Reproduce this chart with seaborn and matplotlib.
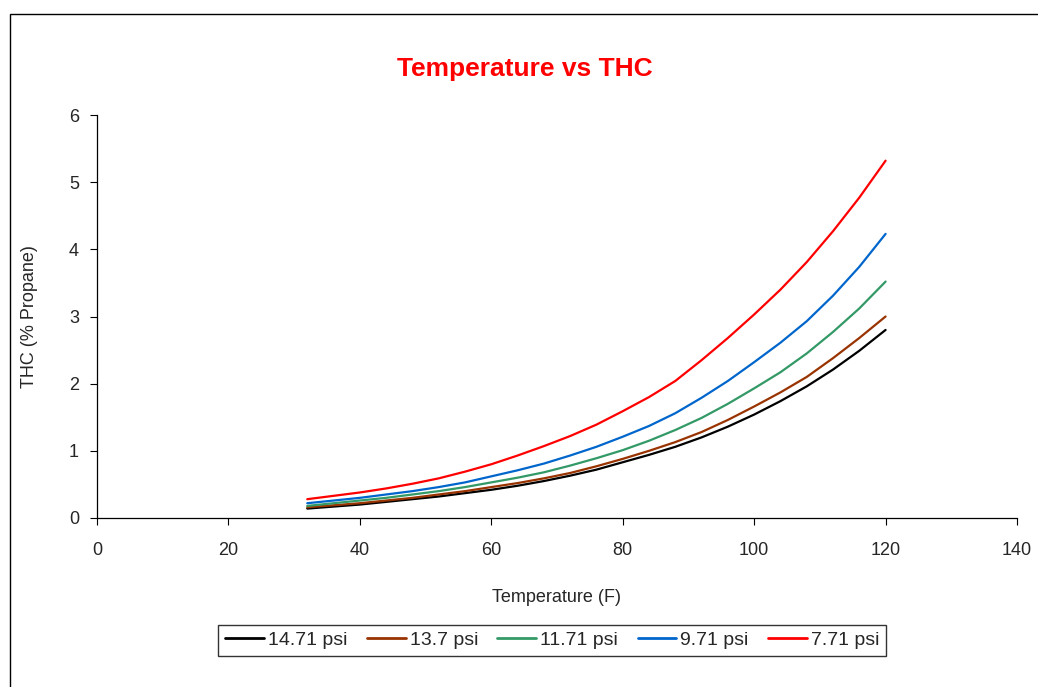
import numpy as np
import pandas as pd
import matplotlib.pyplot as plt
import seaborn as sns
from matplotlib.patches import Rectangle

# temperature (F)
temps = [32, 36, 40, 44, 48, 52, 56, 60, 64, 68, 72, 76,
         80, 84, 88, 92, 96, 100, 104, 108, 112, 116, 120]

# THC (% propane), one list per pressure
thc_1471 = [0.14, 0.17, 0.20, 0.24, 0.28, 0.32, 0.37, 0.42, 0.48, 0.55, 0.63, 0.72,
            0.83, 0.94, 1.06, 1.20, 1.36, 1.54, 1.74, 1.96, 2.21, 2.49, 2.80]
thc_137 = [0.16, 0.19, 0.22, 0.26, 0.30, 0.35, 0.40, 0.46, 0.52, 0.59, 0.67, 0.77,
           0.88, 1.00, 1.13, 1.28, 1.46, 1.66, 1.87, 2.10, 2.38, 2.68, 3.00]
thc_1171 = [0.18, 0.22, 0.26, 0.30, 0.35, 0.40, 0.46, 0.53, 0.60, 0.68, 0.78, 0.89,
            1.01, 1.15, 1.31, 1.49, 1.70, 1.93, 2.17, 2.45, 2.77, 3.12, 3.52]
thc_971 = [0.22, 0.26, 0.30, 0.35, 0.40, 0.46, 0.53, 0.62, 0.71, 0.81, 0.93, 1.06,
           1.21, 1.37, 1.56, 1.79, 2.04, 2.32, 2.61, 2.93, 3.31, 3.74, 4.23]
thc_771 = [0.28, 0.33, 0.38, 0.44, 0.51, 0.59, 0.69, 0.80, 0.93, 1.07, 1.22, 1.39,
           1.59, 1.80, 2.04, 2.35, 2.68, 3.03, 3.40, 3.81, 4.27, 4.77, 5.32]

series_names = ["14.71 psi", "13.7 psi", "11.71 psi", "9.71 psi", "7.71 psi"]
series_vals = [thc_1471, thc_137, thc_1171, thc_971, thc_771]
colors = ["#000000", "#993300", "#339966", "#0066CC", "#FF0000"]

frames = []
for name, vals in zip(series_names, series_vals):
    frames.append(pd.DataFrame({"Temperature (F)": temps, "THC": vals, "series": name}))
df = pd.concat(frames, ignore_index=True)

sns.set_style("ticks")
plt.rcParams['font.family'] = ['Liberation Sans', 'DejaVu Sans']

fig = plt.figure(figsize=(10.38, 6.87), dpi=100)
ax = fig.add_axes([0.0934, 0.246, 0.8864, 0.5866])

sns.lineplot(data=df, x="Temperature (F)", y="THC", hue="series",
             palette=colors, hue_order=series_names, linewidth=1.6, ax=ax)

ax.set_xlim(0, 140)
ax.set_ylim(0, 6)
ax.set_xticks(range(0, 141, 20))
ax.set_yticks(range(0, 7))
ax.tick_params(direction="out", length=5, width=0.8, color="black",
               labelsize=13, pad=12)
ax.tick_params(axis="y", pad=8)
for side in ["left", "bottom"]:
    ax.spines[side].set_color("black")
    ax.spines[side].set_linewidth(0.9)
sns.despine(ax=ax)

ax.set_xlabel("Temperature (F)", fontsize=13, labelpad=22)
ax.set_ylabel("THC (% Propane)", fontsize=13, labelpad=22)

fig.text(0.506, 0.9, "Temperature vs THC", color="red", fontsize=19,
         fontweight="bold", ha="center", va="center")

leg = ax.legend(loc="center", bbox_to_anchor=(0.532, 0.068),
                bbox_transform=fig.transFigure, ncol=5, fontsize=14,
                frameon=True, fancybox=False, shadow=False,
                handlelength=2.0, handletextpad=0.2, columnspacing=1.0,
                borderpad=0.35)
leg.get_frame().set_edgecolor("black")
leg.get_frame().set_linewidth(1.0)
for line in leg.get_lines():
    line.set_linewidth(2.0)

# outer chart border (right and bottom edges lie outside the picture)
fig.patches.append(Rectangle((10 / 1038, -0.1), 1.2, 1 - 14 / 687 + 0.1,
                             transform=fig.transFigure, fill=False,
                             edgecolor="black", linewidth=1.0))

fig.savefig("out.png", dpi=100)
